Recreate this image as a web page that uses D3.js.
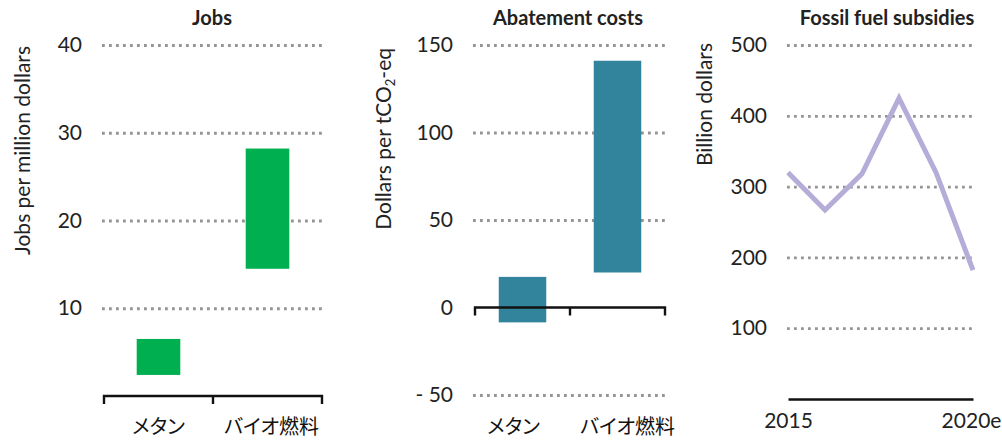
<!DOCTYPE html>
<html><head><meta charset="utf-8">
<script src="https://cdn.jsdelivr.net/npm/d3@7"></script>
<style>
body{margin:0;background:#fff;}
svg{font-family:Lato,"Noto Sans",sans-serif;}
.jp{font-feature-settings:"palt" 1;}
</style></head>
<body><svg id="c" width="1002" height="441"></svg>
<script>
// ---- data ----
const categories = ["メタン", "バイオ燃料"];
const jobsLow = [2.4, 14.5];
const jobsHigh = [6.5, 28.2];
const jobsTicks = [10, 20, 30, 40];
const costLow = [-8.5, 20];
const costHigh = [17.5, 141];
const costTicks = [-50, 0, 50, 100, 150];
const costGrid = [-50, 50, 100, 150];
const years = ["2015", "2016", "2017", "2018", "2019", "2020e"];
const subsidies = [320, 267, 318, 425, 320, 182];
const subsidyTicks = [100, 200, 300, 400, 500];
const yearLabels = ["2015", "2020e"];

const svg = d3.select("#c");
const textCol = "#222";

function grid(g, y, ticks, x0, x1){
  const ax = d3.axisLeft(y).tickValues(ticks).tickSize(-(x1 - x0)).tickFormat("");
  const gg = g.append("g").attr("transform", `translate(${x0},0)`).call(ax);
  gg.select(".domain").remove();
  gg.selectAll("line").attr("stroke", "#959595").attr("stroke-width", 2.8)
    .attr("stroke-dasharray", "2.8 4.2");
}
function yLabels(g, y, ticks, x0, fmt){
  const ax = d3.axisLeft(y).tickValues(ticks).tickSize(0).tickPadding(20);
  if (fmt) ax.tickFormat(fmt);
  const gg = g.append("g").attr("transform", `translate(${x0},0)`).call(ax);
  gg.select(".domain").remove();
  gg.selectAll("text").attr("font-family", "Lato").attr("font-size", 21)
    .attr("fill", textCol);
}
function title(g, x, txt){
  g.append("text").attr("x", x).attr("y", 25).attr("text-anchor", "middle")
    .attr("font-weight", "bold").attr("font-size", 20).attr("fill", textCol).text(txt);
}
function yTitle(g, x, y, txt){
  return g.append("text").attr("transform", `translate(${x},${y}) rotate(-90)`)
    .attr("text-anchor", "end").attr("font-size", 21)
    .attr("fill", textCol).text(txt);
}
function catAxis(g, x, yPos){
  const gg = g.append("g").attr("transform", `translate(0,${yPos})`);
  gg.append("path").attr("fill", "none").attr("stroke", "#111").attr("stroke-width", 2.4)
    .attr("d", `M${x.range()[0]},8V0H${x.range()[1]}V8`);
  const bounds = categories.map(c => x(c)).slice(1);
  gg.selectAll("line.tk").data(bounds).join("line").attr("class", "tk")
    .attr("x1", d => d).attr("x2", d => d).attr("y1", 0).attr("y2", 8)
    .attr("stroke", "#111").attr("stroke-width", 2.4);
}
function catLabels(g, x, yPos, dx){
  g.selectAll(null).data(categories).join("text").attr("class", "jp")
    .attr("x", (d, i) => x(d) + x.bandwidth() / 2 + dx[i]).attr("y", yPos)
    .attr("text-anchor", "middle").attr("font-family", "Noto Sans CJK JP")
    .attr("font-size", 20).attr("fill", "#111").text(d => d);
}

// ---- Panel 1: Jobs ----
{
  const g = svg.append("g");
  const y = d3.scaleLinear().domain([0, 40]).range([396, 45]);
  const x = d3.scaleBand().domain(categories).range([104, 322]).padding(0);
  grid(g, y, jobsTicks, 102, 323);
  yLabels(g, y, jobsTicks, 102);
  const bw = x.bandwidth() * 0.4;
  g.selectAll("rect").data(categories).join("rect")
    .attr("x", d => x(d) + (x.bandwidth() - bw) / 2).attr("width", bw)
    .attr("y", (d, i) => y(jobsHigh[i])).attr("height", (d, i) => y(jobsLow[i]) - y(jobsHigh[i]))
    .attr("fill", "#00b050");
  catAxis(g, x, 396);
  catLabels(g, x, 434, [0, 4]);
  title(g, 212, "Jobs");
  yTitle(g, 30, 46, "Jobs per million dollars");
}

// ---- Panel 2: Abatement costs ----
{
  const g = svg.append("g");
  const y = d3.scaleLinear().domain([-50, 150]).range([395, 45]);
  const x = d3.scaleBand().domain(categories).range([475, 665]).padding(0);
  grid(g, y, costGrid, 473, 667);
  yLabels(g, y, costTicks, 473, d => d < 0 ? "- " + Math.abs(d) : d);
  const bw = x.bandwidth() * 0.5;
  g.selectAll("rect").data(categories).join("rect")
    .attr("x", d => x(d) + (x.bandwidth() - bw) / 2).attr("width", bw)
    .attr("y", (d, i) => y(costHigh[i])).attr("height", (d, i) => y(costLow[i]) - y(costHigh[i]))
    .attr("fill", "#31849b");
  catAxis(g, x, y(0));
  catLabels(g, x, 434, [-9, 10]);
  title(g, 568, "Abatement costs");
  const t = yTitle(g, 391, 48, "");
  t.append("tspan").text("Dollars per tCO");
  t.append("tspan").attr("font-size", 13).attr("dy", 4).text("2");
  t.append("tspan").attr("dy", -4).text("-eq");
}

// ---- Panel 3: Fossil fuel subsidies ----
{
  const g = svg.append("g");
  const y = d3.scaleLinear().domain([0, 500]).range([399, 45]);
  const x = d3.scalePoint().domain(years).range([788, 973]);
  grid(g, y, subsidyTicks, 787, 973);
  yLabels(g, y, subsidyTicks, 787);
  g.append("path").datum(subsidies)
    .attr("d", d3.line().x((d, i) => x(years[i])).y(d => y(d)))
    .attr("fill", "none").attr("stroke", "#b6acd8").attr("stroke-width", 5)
    .attr("stroke-linejoin", "miter");
  const ax = d3.axisBottom(x).tickValues(yearLabels).tickSize(0).tickPadding(14);
  const gg = g.append("g").attr("transform", `translate(0,${y(0)})`).call(ax);
  gg.select(".domain").attr("stroke", "#111").attr("stroke-width", 2.4);
  gg.selectAll("text").attr("font-family", "Lato").attr("font-size", 21)
    .attr("fill", textCol);
  gg.selectAll(".tick").filter(d => d === "2020e").select("text").attr("dx", -2);
  title(g, 887, "Fossil fuel subsidies");
  yTitle(g, 712, 43, "Billion dollars");
}
</script></body></html>
